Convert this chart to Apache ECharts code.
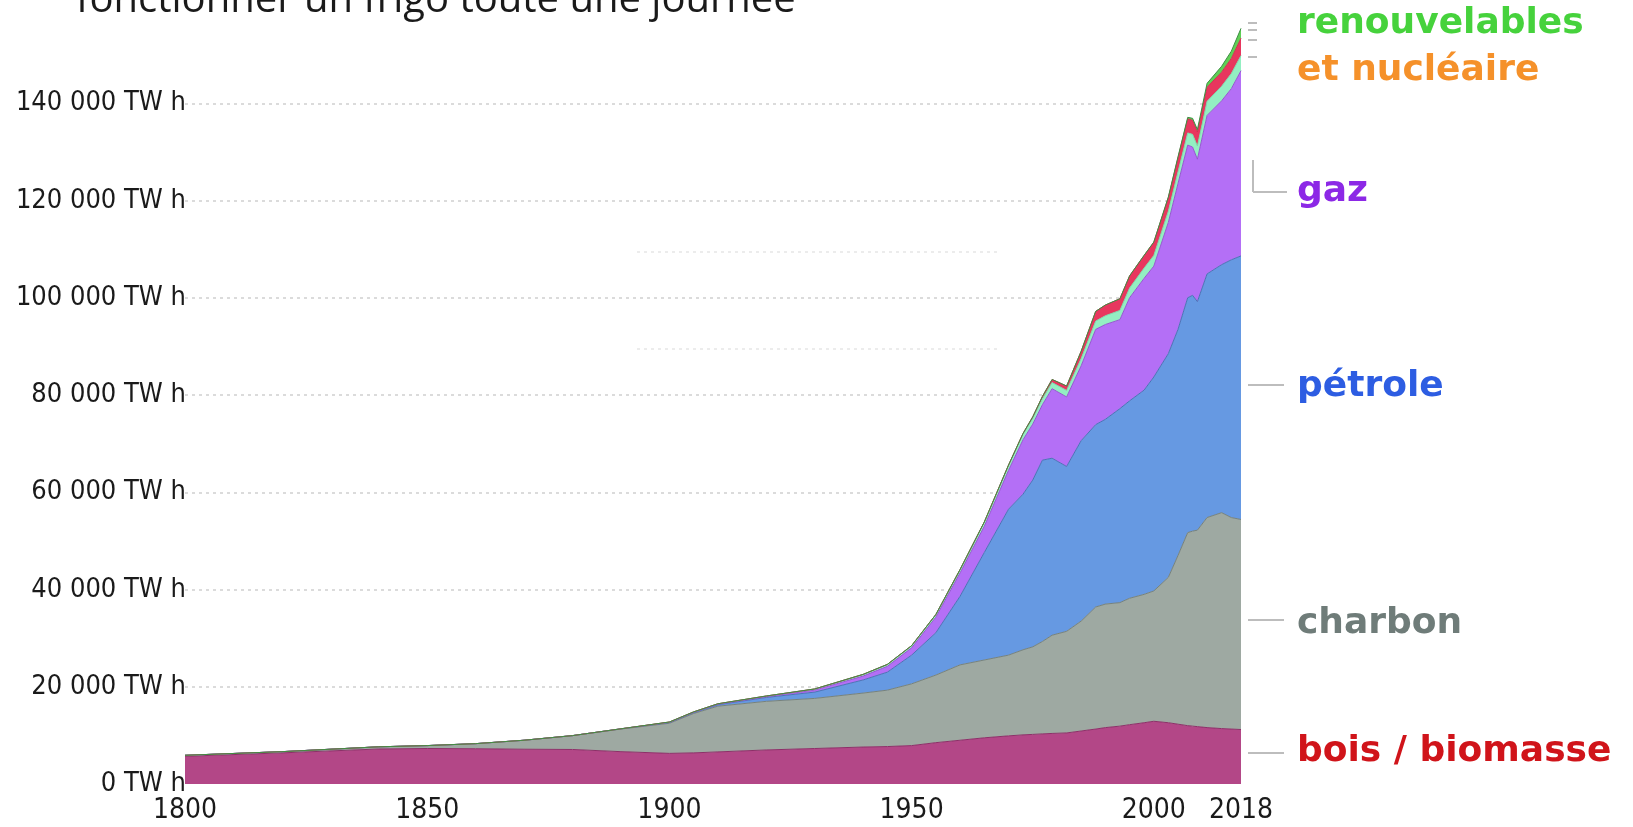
<!DOCTYPE html>
<html><head><meta charset="utf-8">
<script src="https://cdn.jsdelivr.net/npm/echarts@6/dist/echarts.min.js"></script>
<style>html,body{margin:0;padding:0;background:#fff;}#c{width:1633px;height:827px;}</style>
</head><body><div id="c"></div>
<script>
const years = [1800,1820,1840,1850,1860,1870,1880,1890,1900,1905,1910,1920,1930,1940,1945,1950,1955,1960,1965,1970,1973,1975,1977,1979,1982,1985,1988,1990,1993,1995,1998,2000,2003,2005,2007,2008,2009,2011,2014,2016,2018];
const biomasse = [5700,6400,7200,7300,7250,7150,7100,6650,6300,6400,6600,7000,7300,7600,7700,7900,8500,9000,9500,9900,10100,10200,10300,10400,10500,10900,11300,11600,11900,12200,12600,12900,12600,12300,12000,11900,11800,11600,11400,11300,11200];
const charbon = [200,250,450,600,1050,1850,2850,4650,6200,8100,9400,10000,10300,11100,11600,12700,13900,15500,16000,16600,17500,18000,19000,20200,20900,22600,25100,25400,25400,26000,26400,26800,29900,34700,39700,40100,40400,43200,44400,43500,43200];
const petrole = [0,0,0,0,0,0,0,50,150,200,300,800,1300,2700,3700,5900,8700,14100,22100,30000,32000,34300,37300,36400,33900,37100,37500,38000,39900,40600,42000,44000,46000,46500,48300,48500,47000,50100,51000,53000,54200];
const gaz = [0,0,0,0,0,0,0,0,50,50,100,150,400,800,1200,1500,3200,4800,5400,8000,11200,11500,11400,14300,14300,15400,19600,19500,18300,21200,23000,22800,27000,30000,31400,30500,29300,32600,33700,35200,38100];
const hydro = [0,0,0,0,0,0,0,0,50,80,100,150,250,350,400,450,550,700,850,1000,1100,1150,1200,1250,1350,1500,1700,1800,1900,2000,2100,2200,2300,2400,2500,2600,2700,2900,3000,3100,3100];
const nucleaire = [0,0,0,0,0,0,0,0,0,0,0,0,0,0,0,0,0,0,30,80,200,350,500,650,900,1500,2000,2200,2400,2500,2600,2700,2800,2900,2900,2900,2900,2900,2900,3100,3600];
const autresRenouvelables = [0,0,0,0,0,0,0,0,0,0,0,0,0,0,0,0,0,0,0,0,0,0,0,0,0,0,0,0,0,0,30,60,120,200,300,400,500,800,1200,1500,2000];
const xTicks = [1800,1850,1900,1950,2000,2018];
const yTicks = [0,20000,40000,60000,80000,100000,120000,140000];

const layers = [
  {name:'bois / biomasse', data:biomasse, fill:'#b34787', line:'#8d2f68'},
  {name:'charbon', data:charbon, fill:'#9ea9a2', line:'#77827b'},
  {name:'pétrole', data:petrole, fill:'#6699e2', line:'#4a73b5'},
  {name:'gaz', data:gaz, fill:'#b46ff6', line:'#9555d0'},
  {name:'hydraulique', data:hydro, fill:'#93efc2', line:'#7fd8ac'},
  {name:'nucléaire', data:nucleaire, fill:'#e8365e', line:'#d0304f'},
  {name:'renouvelables', data:autresRenouvelables, fill:'#5fcf55', line:'#3f8f45'}
];

const fmt = v => String(v).replace(/\B(?=(\d{3})+(?!\d))/g, ' ') + ' TW h';
const labelFont = "'Liberation Sans Narrow','DejaVu Sans Condensed','Liberation Sans',sans-serif";
const bigFont = "bold 36px 'DejaVu Sans', sans-serif";

const chart = echarts.init(document.getElementById('c'), null, {renderer:'canvas'});
const txt = (text, y, color) => ({type:'text', x:1297, y:y, style:{text:text, font:bigFont, fill:color, textAlign:'left', align:'left', textVerticalAlign:'middle', verticalAlign:'middle'}});
const seg = (x1,y1,x2,y2) => ({type:'line', shape:{x1,y1,x2,y2}, style:{stroke:'#bdbdbd', lineWidth:2}});
chart.setOption({
  animation:false,
  backgroundColor:'#fff',
  grid:{left:185, right:392, top:6, bottom:43, containLabel:false},
  xAxis:{type:'value', min:1800, max:2018, interval:50,
    axisLine:{show:false}, axisTick:{show:false}, splitLine:{show:false},
    axisLabel:{show:true, showMaxLabel:true, showMinLabel:true, margin:13, color:'#1a1a1a', fontSize:28, fontFamily:labelFont,
      formatter:v => xTicks.indexOf(v) >= 0 ? String(v) : ''}},
  yAxis:{type:'value', min:0, max:160000, interval:20000,
    axisLine:{show:false}, axisTick:{show:false},
    splitLine:{show:true, showMinLine:false, showMaxLine:false, lineStyle:{color:'#cfcfcf', width:1.5, type:[3,4]}},
    axisLabel:{margin:-1, color:'#1a1a1a', fontSize:27, fontFamily:labelFont, padding:[0,0,14,0],
      formatter:v => yTicks.indexOf(v) >= 0 ? fmt(v) : ''}},
  series: layers.map(l => ({
    name:l.name, type:'line', stack:'total', symbol:'none', smooth:false,
    dimensions:[{name:'valeur', type:'float'}, {name:'annee', type:'float'}],
    encode:{x:'annee', y:'valeur'},
    data: years.map((y,i) => [l.data[i], y]),
    lineStyle:{color:l.line, width:1},
    itemStyle:{color:l.fill},
    areaStyle:{color:l.fill, opacity:1}
  })),
  graphic:[
    {type:'text', x:76, y:1, style:{text:'fonctionner un frigo toute une journée', font:"40px 'Open Sans', sans-serif", fill:'#1a1a1a', textAlign:'left', align:'left', textVerticalAlign:'middle', verticalAlign:'middle'}},
    txt('renouvelables', 24, '#46d23c'),
    txt('et nucléaire', 71, '#f5912a'),
    txt('gaz', 192, '#8c28e6'),
    txt('pétrole', 387, '#2d5de2'),
    txt('charbon', 624, '#6f7c79'),
    txt('bois / biomasse', 752, '#d0141a'),
    seg(1248,23,1257,23), seg(1248,30,1257,30), seg(1248,40,1257,40), seg(1248,57,1257,57),
    seg(1253,160,1253,192), seg(1253,192,1287,192),
    seg(1248,385,1284,385), seg(1248,620,1284,620), seg(1248,753,1284,753),
    {type:'line', shape:{x1:637,y1:252,x2:998,y2:252}, style:{stroke:'#e6e6e6', lineWidth:1.5, lineDash:[3,4]}},
    {type:'line', shape:{x1:637,y1:349,x2:998,y2:349}, style:{stroke:'#e6e6e6', lineWidth:1.5, lineDash:[3,4]}}
  ]
});
</script></body></html>
